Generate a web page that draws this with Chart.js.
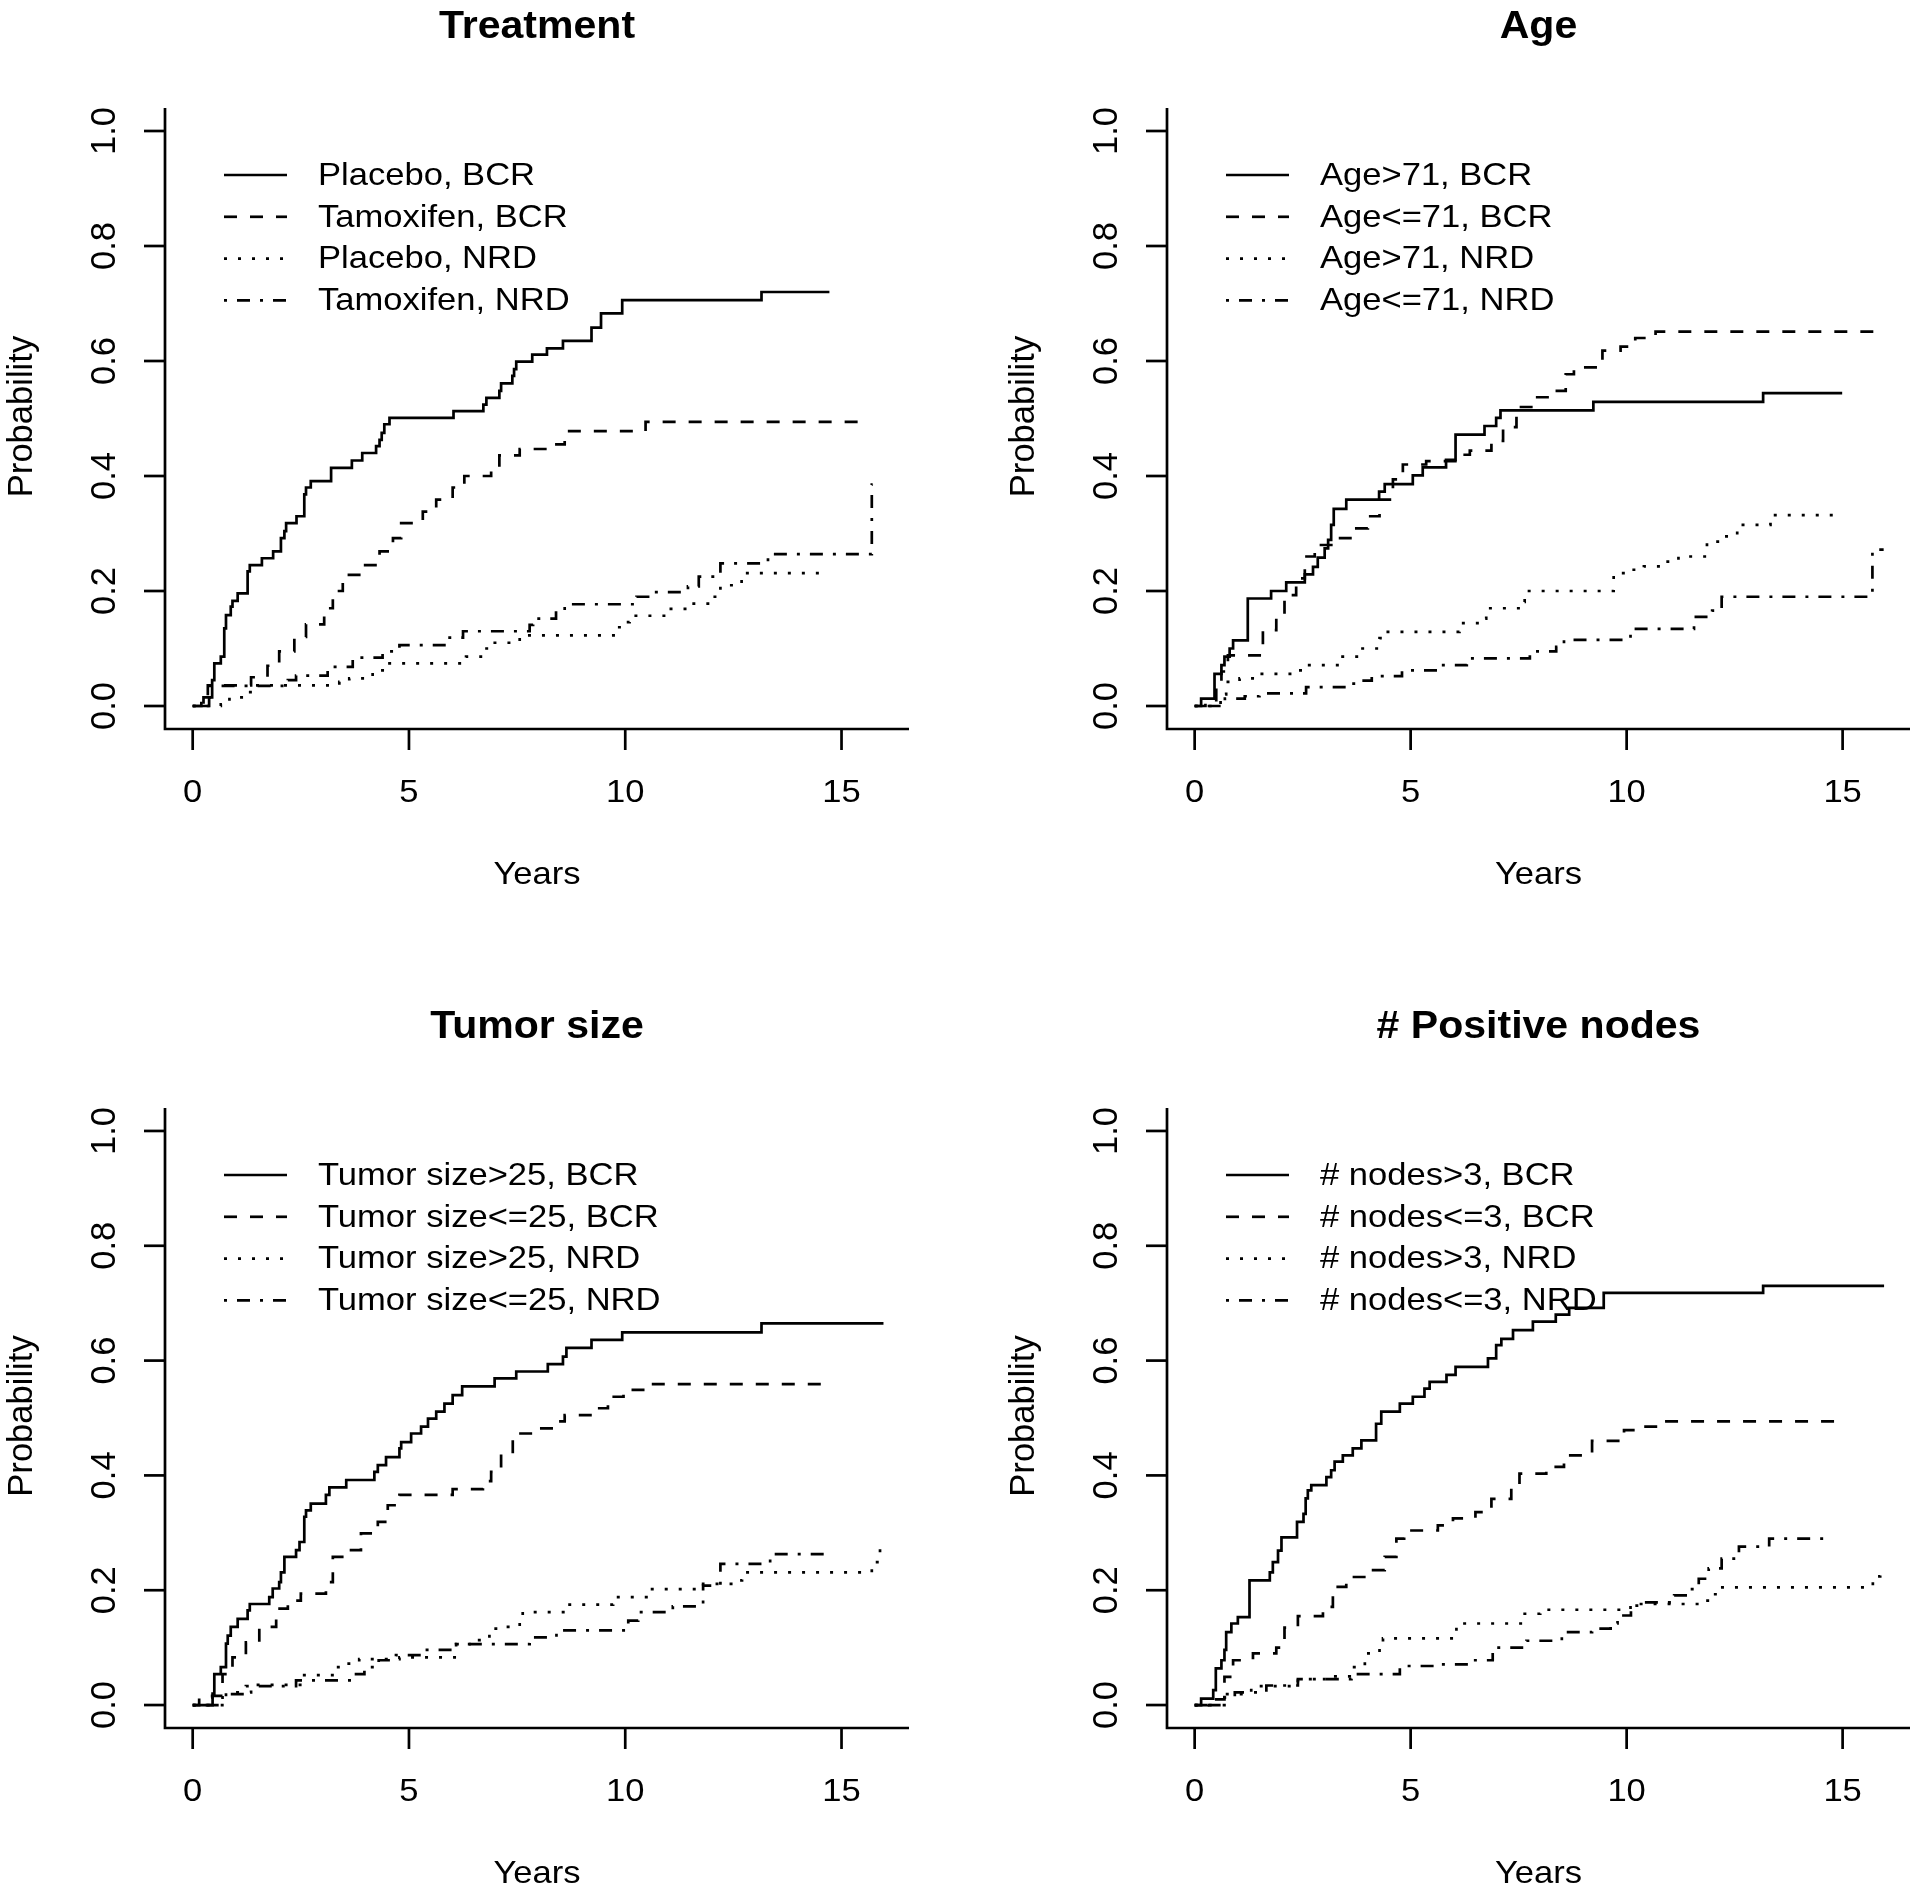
<!DOCTYPE html>
<html>
<head>
<meta charset="utf-8">
<title>Cumulative incidence, BCR and NRD</title>
<script src="https://cdn.jsdelivr.net/npm/chart.js@4.4.1/dist/chart.umd.min.js"></script>
<style>
  html, body { margin: 0; padding: 0; background: #fff; }
  #wrap { position: relative; width: 1920px; height: 1894px; }
  #wrap canvas { position: absolute; }
</style>
</head>
<body>
<div id="wrap">
  <canvas id="c1" width="960" height="947" style="left:0;top:0"></canvas>
  <canvas id="c2" width="960" height="947" style="left:960px;top:0"></canvas>
  <canvas id="c3" width="960" height="947" style="left:0;top:947px"></canvas>
  <canvas id="c4" width="960" height="947" style="left:960px;top:947px"></canvas>
</div>
<script>
// ---------- DATA ----------
const xTicks = [0, 5, 10, 15];
const yTicks = [0, 0.2, 0.4, 0.6, 0.8, 1.0];
const xTitle = "Years";
const yTitle = "Probability";

// Treatment
const treatTitle = "Treatment";
const treatLabels = ["Placebo, BCR", "Tamoxifen, BCR", "Placebo, NRD", "Tamoxifen, NRD"];
const treatPlaceboBcrT = [0, 0.38, 0.45, 0.50, 0.65, 0.73, 0.77, 0.88, 0.92, 1.04, 1.27, 1.32, 1.60, 1.86, 2.04, 2.12, 2.16, 2.40, 2.58, 2.62, 2.73, 3.20, 3.68, 3.92, 4.24, 4.32, 4.37, 4.43, 4.55, 6.03, 6.72, 6.79, 7.09, 7.13, 7.39, 7.43, 7.48, 7.85, 8.19, 8.56, 9.22, 9.44, 9.93, 13.15, 14.72];
const treatPlaceboBcrP = [0, 0.015, 0.045, 0.074, 0.086, 0.135, 0.158, 0.173, 0.183, 0.196, 0.234, 0.245, 0.257, 0.269, 0.292, 0.304, 0.318, 0.330, 0.368, 0.380, 0.391, 0.414, 0.427, 0.440, 0.452, 0.463, 0.475, 0.490, 0.501, 0.513, 0.524, 0.536, 0.548, 0.561, 0.574, 0.586, 0.599, 0.611, 0.622, 0.635, 0.658, 0.683, 0.706, 0.720, 0.720];
const treatTamoxBcrT = [0, 0.2, 0.35, 1.35, 1.73, 2.0, 2.35, 2.62, 3.04, 3.24, 3.47, 3.89, 4.32, 4.63, 4.82, 5.32, 5.63, 6.01, 6.28, 6.9, 7.09, 7.56, 8.33, 8.6, 10.47, 15.62];
const treatTamoxBcrP = [0, 0.012, 0.036, 0.05, 0.07, 0.095, 0.12, 0.142, 0.17, 0.2, 0.228, 0.245, 0.269, 0.292, 0.318, 0.338, 0.359, 0.38, 0.40, 0.408, 0.436, 0.447, 0.455, 0.478, 0.494, 0.494];
const treatPlaceboNrdT = [0, 0.65, 0.85, 1.27, 1.46, 3.39, 3.62, 4.16, 4.47, 6.32, 6.75, 6.9, 7.56, 9.8, 9.95, 10.1, 10.95, 11.45, 11.95, 12.2, 12.69, 14.64];
const treatPlaceboNrdP = [0, 0.003, 0.015, 0.024, 0.036, 0.042, 0.048, 0.062, 0.074, 0.086, 0.1, 0.11, 0.123, 0.137, 0.146, 0.157, 0.169, 0.178, 0.19, 0.21, 0.231, 0.231];
const treatTamoxNrdT = [0, 0.25, 0.4, 2.2, 2.39, 3.12, 3.7, 4.39, 4.78, 5.86, 6.25, 7.79, 7.87, 8.4, 8.6, 10.26, 10.64, 11.45, 11.7, 12.2, 13.3, 15.7, 15.72];
const treatTamoxNrdP = [0, 0.015, 0.035, 0.045, 0.053, 0.068, 0.084, 0.095, 0.106, 0.119, 0.130, 0.141, 0.152, 0.165, 0.177, 0.190, 0.198, 0.208, 0.225, 0.248, 0.264, 0.385, 0.385];

// Age
const ageTitle = "Age";
const ageLabels = ["Age>71, BCR", "Age<=71, BCR", "Age>71, NRD", "Age<=71, NRD"];
const ageOldBcrT = [0, 0.15, 0.46, 0.62, 0.69, 0.81, 0.89, 1.23, 1.77, 2.12, 2.55, 2.74, 2.85, 3.01, 3.09, 3.16, 3.22, 3.51, 4.27, 4.4, 5.05, 5.28, 5.82, 6.04, 6.71, 6.98, 7.08, 9.23, 13.16, 14.99];
const ageOldBcrP = [0, 0.013, 0.056, 0.071, 0.086, 0.1, 0.114, 0.187, 0.2, 0.215, 0.229, 0.242, 0.258, 0.274, 0.289, 0.315, 0.343, 0.359, 0.373, 0.386, 0.401, 0.415, 0.428, 0.472, 0.487, 0.501, 0.514, 0.529, 0.544, 0.544];
const ageYoungBcrT = [0, 0.25, 0.5, 0.62, 0.77, 1.58, 1.89, 2.08, 2.35, 2.55, 2.78, 3.28, 3.66, 4.01, 4.28, 4.59, 4.82, 5.36, 6.1, 6.37, 6.87, 7.14, 7.45, 7.83, 8.29, 8.59, 8.78, 9.44, 9.86, 10.2, 10.67, 15.96];
const ageYoungBcrP = [0, 0.01, 0.04, 0.06, 0.088, 0.132, 0.158, 0.193, 0.222, 0.26, 0.28, 0.292, 0.309, 0.33, 0.359, 0.394, 0.42, 0.426, 0.437, 0.444, 0.461, 0.485, 0.52, 0.537, 0.548, 0.577, 0.589, 0.618, 0.625, 0.64, 0.651, 0.651];
const ageOldNrdT = [0, 0.6, 0.73, 1.04, 1.5, 2.39, 2.58, 3.36, 3.82, 4.28, 4.36, 6.13, 6.71, 6.75, 7.56, 7.64, 9.7, 10.1, 10.4, 10.86, 11.2, 11.86, 12.2, 12.56, 13.33, 14.95];
const ageOldNrdP = [0, 0.02, 0.042, 0.048, 0.056, 0.062, 0.071, 0.086, 0.1, 0.118, 0.129, 0.144, 0.152, 0.17, 0.181, 0.2, 0.231, 0.237, 0.243, 0.251, 0.26, 0.286, 0.295, 0.315, 0.332, 0.332];
const ageYoungNrdT = [0, 0.7, 1.16, 1.5, 2.58, 3.59, 3.86, 4.1, 4.8, 5.71, 6.3, 7.76, 8.37, 8.55, 10.09, 11.56, 11.98, 12.2, 15.69, 15.95];
const ageYoungNrdP = [0, 0.013, 0.017, 0.022, 0.033, 0.039, 0.044, 0.052, 0.062, 0.071, 0.083, 0.095, 0.103, 0.115, 0.134, 0.155, 0.166, 0.190, 0.272, 0.272];

// Tumor size
const sizeTitle = "Tumor size";
const sizeLabels = ["Tumor size>25, BCR", "Tumor size<=25, BCR", "Tumor size>25, NRD", "Tumor size<=25, NRD"];
const sizeBigBcrT = [0, 0.46, 0.5, 0.65, 0.77, 0.81, 0.88, 1.04, 1.27, 1.32, 1.77, 1.85, 2.0, 2.04, 2.12, 2.39, 2.47, 2.58, 2.62, 2.73, 3.08, 3.16, 3.55, 4.2, 4.28, 4.47, 4.78, 4.82, 5.05, 5.28, 5.44, 5.63, 5.82, 6.01, 6.23, 6.98, 7.48, 8.21, 8.56, 8.64, 9.22, 9.93, 13.15, 15.97];
const sizeBigBcrP = [0, 0.02, 0.054, 0.066, 0.107, 0.121, 0.136, 0.15, 0.165, 0.176, 0.188, 0.203, 0.214, 0.231, 0.258, 0.27, 0.284, 0.328, 0.339, 0.351, 0.366, 0.379, 0.392, 0.406, 0.418, 0.432, 0.447, 0.458, 0.473, 0.485, 0.499, 0.511, 0.525, 0.54, 0.555, 0.569, 0.581, 0.594, 0.607, 0.622, 0.636, 0.649, 0.665, 0.665];
const sizeSmallBcrT = [0, 0.15, 0.45, 0.69, 0.92, 1.23, 1.54, 1.93, 2.2, 2.5, 3.08, 3.24, 3.55, 3.89, 4.28, 4.51, 4.78, 6.01, 6.71, 6.9, 7.13, 7.4, 7.87, 8.33, 8.6, 9.25, 9.6, 9.96, 10.56, 14.73];
const sizeSmallBcrP = [0, 0.013, 0.016, 0.054, 0.083, 0.109, 0.136, 0.168, 0.182, 0.194, 0.214, 0.258, 0.27, 0.299, 0.319, 0.348, 0.366, 0.376, 0.39, 0.406, 0.438, 0.473, 0.482, 0.494, 0.505, 0.517, 0.537, 0.549, 0.559, 0.559];
const sizeBigNrdT = [0, 0.73, 0.77, 1.35, 2.54, 3.31, 3.55, 3.85, 4.78, 6.09, 6.4, 6.86, 7.21, 7.56, 7.63, 8.6, 9.72, 10.49, 11.8, 12.57, 12.7, 15.7, 15.89];
const sizeBigNrdP = [0, 0.013, 0.022, 0.035, 0.052, 0.066, 0.072, 0.080, 0.083, 0.106, 0.113, 0.133, 0.136, 0.148, 0.162, 0.175, 0.188, 0.202, 0.211, 0.217, 0.231, 0.249, 0.282];
const sizeSmallNrdT = [0, 0.69, 1.23, 2.39, 3.7, 3.97, 4.3, 4.7, 5.3, 6.09, 7.79, 8.41, 10.07, 10.3, 11.1, 11.8, 12.2, 13.35, 14.73];
const sizeSmallNrdP = [0, 0.019, 0.033, 0.043, 0.054, 0.066, 0.078, 0.087, 0.096, 0.106, 0.118, 0.130, 0.147, 0.162, 0.172, 0.208, 0.246, 0.263, 0.263];

// # Positive nodes
const nodesTitle = "# Positive nodes";
const nodesLabels = ["# nodes>3, BCR", "# nodes<=3, BCR", "# nodes>3, NRD", "# nodes<=3, NRD"];
const nodesManyBcrT = [0, 0.15, 0.43, 0.49, 0.62, 0.69, 0.73, 0.85, 1.0, 1.27, 1.74, 1.81, 1.93, 2.01, 2.37, 2.52, 2.57, 2.62, 2.7, 3.05, 3.16, 3.24, 3.43, 3.66, 3.86, 4.2, 4.32, 4.75, 5.05, 5.32, 5.44, 5.83, 6.04, 6.79, 6.98, 7.1, 7.37, 7.83, 8.36, 8.67, 9.47, 13.16, 15.96];
const nodesManyBcrP = [0, 0.011, 0.026, 0.064, 0.078, 0.096, 0.127, 0.142, 0.153, 0.217, 0.231, 0.249, 0.269, 0.292, 0.319, 0.333, 0.36, 0.374, 0.383, 0.397, 0.409, 0.424, 0.435, 0.447, 0.461, 0.49, 0.511, 0.525, 0.537, 0.551, 0.563, 0.575, 0.589, 0.604, 0.627, 0.638, 0.653, 0.668, 0.68, 0.692, 0.718, 0.73, 0.73];
const nodesFewBcrT = [0, 0.3, 0.69, 0.89, 1.35, 1.89, 2.08, 2.39, 2.97, 3.2, 3.51, 3.97, 4.4, 4.67, 4.85, 5.63, 5.98, 6.5, 6.87, 7.33, 7.52, 8.14, 8.55, 9.2, 9.94, 10.33, 10.8, 14.95];
const nodesFewBcrP = [0, 0.01, 0.049, 0.078, 0.09, 0.1, 0.135, 0.155, 0.171, 0.206, 0.223, 0.235, 0.258, 0.29, 0.304, 0.313, 0.325, 0.336, 0.359, 0.377, 0.403, 0.415, 0.435, 0.46, 0.479, 0.485, 0.494, 0.494];
const nodesManyNrdT = [0, 0.69, 1.31, 2.39, 3.2, 3.59, 3.94, 4.28, 4.36, 6.06, 7.64, 8.0, 10.09, 11.75, 11.94, 12.18, 15.7, 15.87];
const nodesManyNrdP = [0, 0.019, 0.033, 0.045, 0.05, 0.066, 0.09, 0.107, 0.116, 0.142, 0.159, 0.166, 0.176, 0.182, 0.193, 0.205, 0.224, 0.238];
const nodesFewNrdT = [0, 0.69, 0.93, 1.66, 2.39, 3.63, 4.75, 5.67, 6.33, 6.9, 7.68, 8.5, 9.2, 9.63, 9.79, 10.1, 10.33, 11.1, 11.48, 11.67, 11.9, 12.2, 12.6, 13.3, 14.76];
const nodesFewNrdP = [0, 0.013, 0.022, 0.034, 0.045, 0.054, 0.068, 0.071, 0.078, 0.1, 0.112, 0.127, 0.133, 0.142, 0.156, 0.173, 0.179, 0.191, 0.202, 0.22, 0.238, 0.255, 0.276, 0.29, 0.29];

// ---------- STYLE ----------
const FONT = '"Liberation Sans", Arial, Helvetica, sans-serif';
const TEXT_SX = 1.08;          // glyphs in the reference are a little wide
const ROT_SX = 1.12, ROT_SY = 1.08;  // rotated labels come out a bit larger
const LINE_W = 2.7;
const lineStyles = ["solid", "dashed", "dotted", "dotdash"];
const dashFor = { solid: [], dashed: [13, 13], dotted: [3, 11], dotdash: [3, 10, 13, 10] };

// ---------- R-LIKE FRAME PLUGIN ----------
function drawText(ctx, txt, x, y) {
  ctx.save();
  ctx.translate(x, y);
  ctx.scale(TEXT_SX, 1);
  ctx.fillText(txt, 0, 0);
  ctx.restore();
}
function drawTextUp(ctx, txt, x, y) {
  ctx.save();
  ctx.translate(x, y);
  ctx.scale(ROT_SX, ROT_SY);
  ctx.rotate(-Math.PI / 2);
  ctx.fillText(txt, 0, 0);
  ctx.restore();
}

const rFrame = {
  id: "rFrame",
  afterDraw(chart, args, opts) {
    const ctx = chart.ctx, a = chart.chartArea;
    const xs = chart.scales.x, ys = chart.scales.y;
    ctx.save();
    ctx.strokeStyle = "#000";
    ctx.fillStyle = "#000";
    ctx.lineWidth = LINE_W;
    ctx.setLineDash([]);
    ctx.lineCap = "butt";

    // L-shaped box
    ctx.beginPath();
    ctx.moveTo(a.left, a.top);
    ctx.lineTo(a.left, a.bottom);
    ctx.lineTo(a.right, a.bottom);
    ctx.stroke();

    ctx.font = "32px " + FONT;
    ctx.textBaseline = "middle";
    ctx.textAlign = "center";

    // x axis
    xTicks.forEach(v => {
      const x = xs.getPixelForValue(v);
      ctx.beginPath(); ctx.moveTo(x, a.bottom); ctx.lineTo(x, a.bottom + 21); ctx.stroke();
      drawText(ctx, String(v), x, a.bottom + 64);
    });
    // y axis
    yTicks.forEach(v => {
      const y = ys.getPixelForValue(v);
      ctx.beginPath(); ctx.moveTo(a.left - 21, y); ctx.lineTo(a.left, y); ctx.stroke();
      drawTextUp(ctx, v.toFixed(1), a.left - 60, y);
    });

    // axis titles
    const cx = (a.left + a.right) / 2, cy = (a.top + a.bottom) / 2;
    drawText(ctx, xTitle, cx, a.bottom + 146);
    drawTextUp(ctx, yTitle, a.left - 143, cy - 2);

    // main title
    ctx.font = "bold 38px " + FONT;
    drawText(ctx, opts.title, cx, a.top - 80);

    // legend (no box)
    ctx.font = "32px " + FONT;
    ctx.textAlign = "left";
    opts.labels.forEach((lab, i) => {
      const y = a.top + 67 + i * 41.8;
      ctx.setLineDash(dashFor[lineStyles[i]]);
      ctx.beginPath(); ctx.moveTo(a.left + 59, y); ctx.lineTo(a.left + 122, y); ctx.stroke();
      ctx.setLineDash([]);
      drawText(ctx, lab, a.left + 153, y + 1);
    });
    ctx.restore();
  }
};

// ---------- PANELS ----------
const panels = [
  { id: "c1", title: treatTitle, labels: treatLabels,
    pad: { left: 165, top: 108, right: 51, bottom: 218 },
    series: [[treatPlaceboBcrT, treatPlaceboBcrP], [treatTamoxBcrT, treatTamoxBcrP], [treatPlaceboNrdT, treatPlaceboNrdP], [treatTamoxNrdT, treatTamoxNrdP]] },
  { id: "c2", title: ageTitle, labels: ageLabels,
    pad: { left: 207, top: 108, right: 10, bottom: 218 },
    series: [[ageOldBcrT, ageOldBcrP], [ageYoungBcrT, ageYoungBcrP], [ageOldNrdT, ageOldNrdP], [ageYoungNrdT, ageYoungNrdP]] },
  { id: "c3", title: sizeTitle, labels: sizeLabels,
    pad: { left: 165, top: 161, right: 51, bottom: 166 },
    series: [[sizeBigBcrT, sizeBigBcrP], [sizeSmallBcrT, sizeSmallBcrP], [sizeBigNrdT, sizeBigNrdP], [sizeSmallNrdT, sizeSmallNrdP]] },
  { id: "c4", title: nodesTitle, labels: nodesLabels,
    pad: { left: 207, top: 161, right: 10, bottom: 166 },
    series: [[nodesManyBcrT, nodesManyBcrP], [nodesFewBcrT, nodesFewBcrP], [nodesManyNrdT, nodesManyNrdP], [nodesFewNrdT, nodesFewNrdP]] }
];

function makePanel(cfg) {
  const datasets = cfg.series.map((s, i) => ({
    label: cfg.labels[i],
    data: s[0].map((t, k) => ({ x: t, y: s[1][k] })),
    stepped: true,               // KM style: hold, then jump
    borderColor: "#000",
    borderWidth: LINE_W,
    borderDash: dashFor[lineStyles[i]],
    borderJoinStyle: "miter",
    pointRadius: 0,
    fill: false
  }));
  return new Chart(document.getElementById(cfg.id), {
    type: "line",
    data: { datasets },
    options: {
      responsive: false,
      animation: false,
      devicePixelRatio: 1,
      events: [],
      layout: { padding: cfg.pad },
      scales: {
        x: { type: "linear", min: -0.64, max: 16.56, display: false },
        y: { type: "linear", min: -0.04, max: 1.04, display: false }
      },
      plugins: {
        legend: { display: false },
        tooltip: { enabled: false },
        rFrame: { title: cfg.title, labels: cfg.labels }
      }
    },
    plugins: [rFrame]
  });
}

panels.forEach(makePanel);
</script>
</body>
</html>
